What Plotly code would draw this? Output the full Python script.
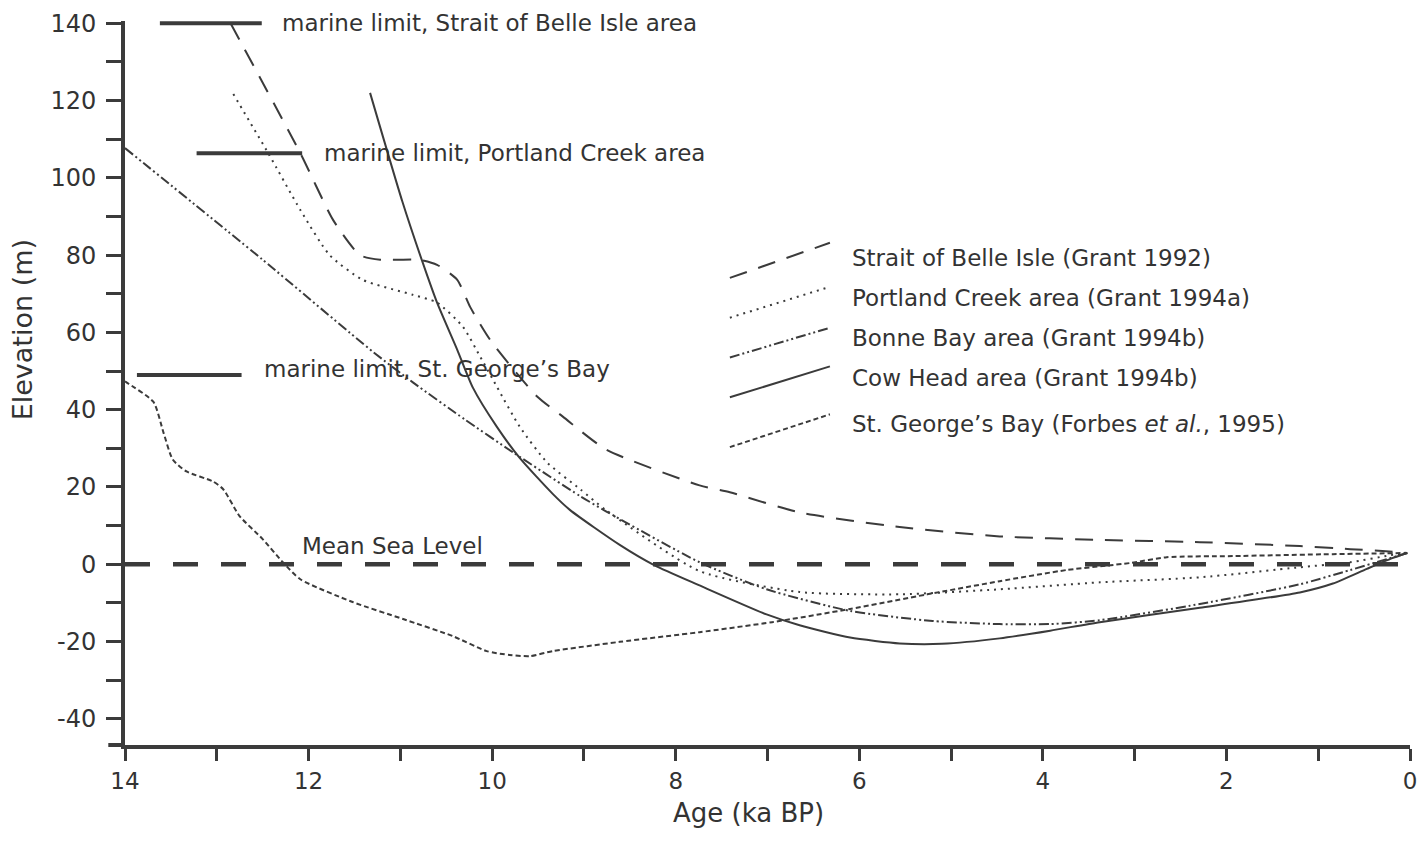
import plotly.graph_objects as go

# ---------------- data (age in ka BP, elevation in m) ----------------
belle_age  = [12.85, 12.09, 11.73, 11.44, 11.22, 10.79, 10.60, 10.38, 10.24, 10.02, 9.51, 9.23, 8.76, 7.74, 7.41, 6.65, 5.56, 4.47, 3.38, 2.29, 1.20, 0.65, 0.30, 0.03]
belle_elev = [140.0, 106.4, 89.0, 80.0, 78.8, 78.8, 77.5, 73.6, 66.6, 58.0, 43.4, 38.2, 29.7, 20.4, 18.6, 13.4, 9.6, 7.2, 6.3, 5.7, 4.7, 3.9, 3.4, 2.9]

portland_age  = [12.82, 12.44, 12.09, 11.77, 11.41, 10.86, 10.60, 10.32, 10.13, 9.95, 9.70, 9.40, 9.04, 8.76, 7.74, 6.65, 5.56, 4.47, 3.38, 2.29, 1.20, 0.65, 0.22, 0.03]
portland_elev = [121.7, 106.4, 91.7, 80.0, 73.6, 69.7, 67.7, 61.5, 53.7, 46.0, 35.6, 26.3, 19.4, 14.0, -1.8, -7.2, -7.8, -6.5, -4.7, -3.4, -0.8, 0.5, 2.3, 2.9]

bonne_age  = [14.0, 12.5, 11.30, 10.86, 10.30, 9.77, 9.04, 8.76, 7.74, 7.01, 6.10, 5.20, 4.47, 3.92, 3.38, 2.29, 1.20, 0.65, 0.03]
bonne_elev = [107.7, 78.8, 55.0, 47.0, 37.5, 28.9, 17.6, 13.7, 0.5, -6.5, -12.1, -14.7, -15.5, -15.5, -14.5, -10.3, -5.2, -1.5, 2.9]

cow_age  = [11.33, 10.98, 10.76, 10.60, 10.38, 10.21, 9.95, 9.70, 9.34, 9.15, 8.61, 8.23, 7.74, 7.01, 6.65, 6.10, 5.56, 5.10, 4.47, 3.92, 3.38, 2.29, 1.20, 0.84, 0.47, 0.20, 0.03]
cow_elev = [122.0, 94.0, 78.3, 67.7, 55.5, 45.7, 35.6, 27.5, 18.2, 14.0, 5.0, -0.3, -5.5, -13.0, -15.8, -19.0, -20.5, -20.6, -19.2, -17.2, -15.0, -11.3, -7.3, -5.0, -1.2, 1.5, 2.9]

george_age  = [14.0, 13.98, 13.69, 13.58, 13.48, 13.33, 13.04, 12.93, 12.75, 12.50, 12.28, 12.09, 11.52, 10.97, 10.43, 10.06, 9.81, 9.59, 9.34, 8.61, 7.74, 6.95, 6.10, 5.26, 4.47, 3.74, 3.05, 2.65, 1.93, 0.84, 0.03]
george_elev = [47.3, 47.0, 42.0, 34.0, 27.1, 24.0, 21.4, 19.4, 12.4, 6.5, 0.5, -3.9, -9.8, -14.2, -18.6, -22.5, -23.5, -23.8, -22.5, -20.1, -17.6, -15.0, -11.6, -7.8, -4.4, -1.5, 0.3, 1.8, 2.1, 2.6, 2.9]

msl_age  = [14.0, 0.0]
msl_elev = [0.0, 0.0]

# marine limits: start age, end age, elevation, label
limit_labels = ["marine limit, Strait of Belle Isle area",
                "marine limit, Portland Creek area",
                "marine limit, St. George\u2019s Bay"]
limit_from = [13.62, 13.22, 13.87]
limit_to   = [12.51, 12.07, 12.73]
limit_elev = [140.0, 106.4, 49.0]

legend_labels = ["Strait of Belle Isle (Grant 1992)",
                 "Portland Creek area (Grant 1994a)",
                 "Bonne Bay area (Grant 1994b)",
                 "Cow Head area (Grant 1994b)",
                 "St. George\u2019s Bay (Forbes <i>et al.</i>, 1995)"]

x_ticks = [14, 12, 10, 8, 6, 4, 2, 0]
y_ticks = [-40, -20, 0, 20, 40, 60, 80, 100, 120, 140]

# ---------------- styling ----------------
INK = "#3b3b3b"
TXT = "#333333"
FONT = "DejaVu Sans, Liberation Sans, Arial, sans-serif"
TEXT_SIZE = 23

dashes = {
    "belle": "18px,12px",
    "portland": "2px,5px",
    "bonne": "10px,3px,2px,3px,2px,3px",
    "cow": "solid",
    "george": "5px,3px",
}

fig = go.Figure()

series = [
    ("Strait of Belle Isle", belle_age, belle_elev, dashes["belle"]),
    ("Portland Creek", portland_age, portland_elev, dashes["portland"]),
    ("Bonne Bay", bonne_age, bonne_elev, dashes["bonne"]),
    ("Cow Head", cow_age, cow_elev, dashes["cow"]),
    ("St. George's Bay", george_age, george_elev, dashes["george"]),
]
for name, xs, ys, dash in series:
    fig.add_trace(go.Scatter(x=xs, y=ys, mode="lines", name=name,
                             line=dict(color=INK, width=2, dash=dash, shape="spline", smoothing=0.6),
                             showlegend=False, hoverinfo="skip"))

# Mean sea level
fig.add_trace(go.Scatter(x=msl_age, y=msl_elev, mode="lines", showlegend=False,
                         line=dict(color=INK, width=4.5, dash="25px,23px"), hoverinfo="skip"))

# marine limits
for a0, a1, e in zip(limit_from, limit_to, limit_elev):
    fig.add_trace(go.Scatter(x=[a0, a1], y=[e, e], mode="lines", showlegend=False,
                             line=dict(color=INK, width=4), hoverinfo="skip"))

annotations = []
label_age = [12.31, 11.85, 12.51]
label_elev = [140.0, 106.4, 50.4]
for txt, a, e in zip(limit_labels, label_age, label_elev):
    annotations.append(dict(x=a, y=e, xref="x", yref="y", text=txt, showarrow=False,
                            xanchor="left", yanchor="middle",
                            font=dict(family=FONT, size=TEXT_SIZE, color=TXT)))
annotations.append(dict(x=12.09, y=4.8, xref="x", yref="y", text="Mean Sea Level", showarrow=False,
                        xanchor="left", yanchor="middle", font=dict(family=FONT, size=TEXT_SIZE, color=TXT)))

# legend (drawn manually)
leg_text_age = 6.10
leg_text_elev = [79.3, 69.0, 58.6, 48.3, 36.4]
leg_line = [((7.41, 74.1), (6.32, 83.2)),
            ((7.41, 63.8), (6.32, 71.8)),
            ((7.41, 53.5), (6.32, 61.2)),
            ((7.41, 43.2), (6.32, 51.2)),
            ((7.41, 30.3), (6.32, 38.8))]
leg_dash = [dashes["belle"], dashes["portland"], dashes["bonne"], dashes["cow"], dashes["george"]]
shapes = []
for lab, e, (p0, p1), d in zip(legend_labels, leg_text_elev, leg_line, leg_dash):
    annotations.append(dict(x=leg_text_age, y=e, xref="x", yref="y", text=lab, showarrow=False,
                            xanchor="left", yanchor="middle", font=dict(family=FONT, size=TEXT_SIZE, color=TXT)))
    shapes.append(dict(type="line", xref="x", yref="y", x0=p0[0], y0=p0[1], x1=p1[0], y1=p1[1],
                       line=dict(color=INK, width=2, dash=d)))

# small overshoot of the bottom axis line to the left of the y axis
shapes.append(dict(type="line", xref="paper", yref="paper", x0=-0.013, x1=0, y0=0, y1=0,
                   line=dict(color=INK, width=4)))

# axis titles
annotations.append(dict(x=-0.080, y=0.573, xref="paper", yref="paper", text="Elevation (m)",
                        textangle=-90, showarrow=False, xanchor="center", yanchor="middle",
                        font=dict(family=FONT, size=27, color=TXT)))
annotations.append(dict(x=0.485, y=-0.094, xref="paper", yref="paper", text="Age (ka BP)",
                        showarrow=False, xanchor="center", yanchor="middle",
                        font=dict(family=FONT, size=26, color=TXT)))

# page has an 8px body margin: size the figure to fit inside the window
fig.update_layout(
    width=1410, height=826,
    margin=dict(l=117, r=8, t=13, b=89, autoexpand=False),
    paper_bgcolor="white", plot_bgcolor="white",
    annotations=annotations, shapes=shapes,
    showlegend=False,
)
fig.update_xaxes(range=[14, 0], tickvals=x_ticks, ticktext=[str(v) for v in x_ticks],
                 automargin=False,
                 showgrid=False, zeroline=False, showline=True, linewidth=4, linecolor=INK,
                 ticks="outside", ticklen=12, tickwidth=3, tickcolor=INK,
                 minor=dict(dtick=1, tick0=0, ticks="outside", ticklen=12, tickwidth=3, tickcolor=INK),
                 ticklabelstandoff=0,
                 tickfont=dict(family=FONT, size=23, color=TXT))
fig.update_yaxes(range=[-46.8, 140.6], tickvals=y_ticks, ticktext=[str(v) for v in y_ticks],
                 automargin=False,
                 showgrid=False, zeroline=False, showline=True, linewidth=4, linecolor=INK,
                 ticks="outside", ticklen=15, tickwidth=3, tickcolor=INK,
                 minor=dict(dtick=10, tick0=0, ticks="outside", ticklen=15, tickwidth=3, tickcolor=INK),
                 ticklabelstandoff=5,
                 tickfont=dict(family=FONT, size=24, color=TXT))

fig.write_html("out.html")
